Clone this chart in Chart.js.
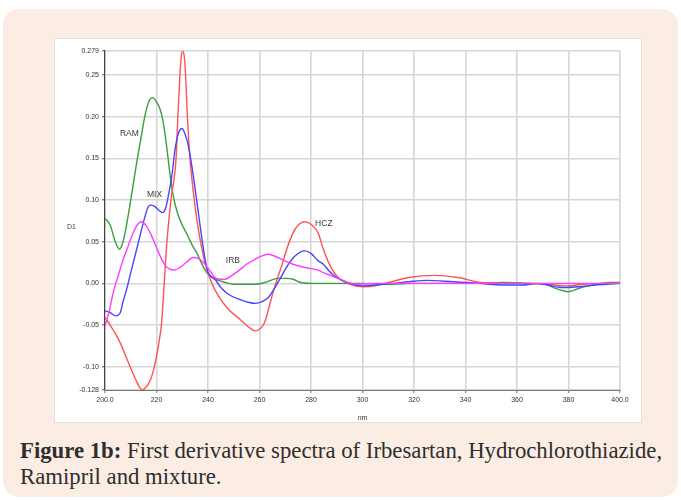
<!DOCTYPE html>
<html>
<head>
<meta charset="utf-8">
<script src="https://cdn.jsdelivr.net/npm/chart.js@4.4.1/dist/chart.umd.min.js"></script>
<style>
    html, body { margin: 0; padding: 0; background: #fff; }
    body { width: 681px; height: 500px; position: relative; overflow: hidden; }
    #panel { position: absolute; left: 3px; top: 9px; width: 675px; height: 488px; background: #fbede3; border-radius: 16px; }
    #box { position: absolute; left: 55px; top: 39px; width: 586px; height: 383px; background: #fff; box-shadow: 0 0 0 1px #e6dfd8; }
    #cap { position: absolute; left: 20px; top: 438px; font-family: 'Liberation Serif', serif; font-size: 19px; line-height: 26px; color: #2e2e2e; white-space: nowrap; }
</style>
</head>
<body>
<div id="panel"></div>
<div id="box"><canvas id="specChart" width="586" height="383"></canvas></div>
<div id="cap"><span id="line1"><b>Figure 1b:</b> First derivative spectra of Irbesartan, Hydrochlorothiazide,</span><br>Ramipril and mixture.</div>

<script>
// wavelength (nm) / first derivative values

// HCZ - red
const hczNm = [200, 202, 204, 206, 208, 210, 212, 213.5, 214.5, 215.5, 217, 218.5, 220, 221, 222, 223, 224, 225.6, 227.6, 228.3, 229.1, 229.6, 230.2, 230.8, 231.3, 232, 233, 234.7, 236, 238.8, 241.4, 244, 247.9, 252, 256, 258.3, 260, 262, 264, 266, 268.6, 271, 273.8, 277.5, 280, 282.7, 284.8, 287, 290, 295, 300, 305, 310, 318, 328, 337, 346, 355, 365, 372, 379, 386, 393, 400];
const hczD1 = [-0.041, -0.05, -0.06, -0.072, -0.087, -0.102, -0.116, -0.125, -0.128, -0.126, -0.12, -0.108, -0.088, -0.07, -0.047, 0, 0.048, 0.10, 0.15, 0.20, 0.25, 0.272, 0.279, 0.272, 0.25, 0.20, 0.15, 0.10, 0.07, 0.025, 0.001, -0.015, -0.031, -0.042, -0.053, -0.057, -0.055, -0.047, -0.025, -0.003, 0.021, 0.045, 0.065, 0.074, 0.071, 0.061, 0.041, 0.024, 0.009, -0.001, -0.004, -0.003, 0.001, 0.007, 0.0096, 0.007, 0.001, 0, 0, -0.001, -0.003, -0.001, 0, 0];

// MIX - blue
const mixNm = [200, 202, 204, 205.8, 207, 208.4, 210, 212.3, 214.9, 216.5, 217.5, 219, 220.5, 222.4, 223.5, 224.6, 226, 227.2, 228.5, 229.9, 231, 232.4, 234, 235.6, 236.6, 238.8, 240.1, 242.7, 245, 247.9, 252, 256, 258.3, 261, 263.4, 266, 268.6, 271, 273.8, 277.5, 280, 282.8, 284.8, 287, 290, 295, 300, 305, 312, 318, 325, 335, 345, 355, 362, 368, 372, 378, 384, 390, 395, 400];
const mixD1 = [-0.033, -0.035, -0.039, -0.036, -0.022, -0.007, 0.013, 0.041, 0.073, 0.09, 0.094, 0.093, 0.089, 0.085, 0.09, 0.105, 0.13, 0.161, 0.18, 0.186, 0.18, 0.165, 0.135, 0.10, 0.077, 0.03, 0.013, 0.005, -0.005, -0.013, -0.019, -0.023, -0.024, -0.022, -0.017, -0.005, 0.009, 0.022, 0.033, 0.039, 0.036, 0.027, 0.023, 0.015, 0.007, 0, -0.003, -0.002, 0, 0.002, 0.0036, 0.002, 0, -0.002, -0.002, 0, -0.002, -0.005, -0.004, -0.002, -0.001, 0];

// RAM - green
const ramNm = [200, 202, 204, 205.6, 207, 208.4, 210, 212.3, 214, 215.5, 217, 218.4, 220, 221.4, 222.5, 223.5, 224.5, 225.5, 226.5, 228, 230, 232, 234, 235.6, 237.5, 239.5, 242, 244.7, 247.9, 250, 258, 262, 267.3, 270.6, 273, 276, 280, 290, 300, 310, 320, 340, 355, 365, 370, 372, 375, 379.9, 385, 390, 395.5, 400];
const ramD1 = [0.078, 0.07, 0.05, 0.041, 0.05, 0.071, 0.10, 0.145, 0.175, 0.201, 0.218, 0.223, 0.218, 0.209, 0.195, 0.175, 0.15, 0.125, 0.105, 0.086, 0.07, 0.058, 0.045, 0.037, 0.024, 0.013, 0.006, 0.003, 0, -0.001, -0.001, 0.001, 0.006, 0.006, 0.005, 0.001, 0, 0, 0, -0.001, 0, 0, 0.001, 0, -0.001, -0.002, -0.006, -0.010, -0.005, -0.002, 0.001, 0.001];

// IRB - magenta
const irbNm = [200, 201.5, 203.2, 205, 207.1, 209, 211, 212.7, 214.2, 215.8, 217.5, 219.5, 221.4, 223.3, 225.2, 227, 229.1, 231.5, 234.3, 236.2, 238.2, 240.8, 242.7, 244.5, 246.6, 249, 251.8, 255, 258.3, 261, 263.4, 266.5, 269.9, 273, 276.4, 279.5, 282.8, 284.8, 288, 291.3, 294.5, 297.7, 305, 320, 340, 360, 380, 400];
const irbD1 = [-0.051, -0.035, -0.011, 0.008, 0.029, 0.045, 0.061, 0.071, 0.074, 0.07, 0.061, 0.047, 0.033, 0.022, 0.017, 0.016, 0.019, 0.025, 0.031, 0.03, 0.025, 0.015, 0.007, 0.005, 0.005, 0.009, 0.015, 0.023, 0.029, 0.033, 0.035, 0.032, 0.027, 0.023, 0.020, 0.018, 0.016, 0.013, 0.009, 0.005, 0.001, -0.001, 0, 0, 0, 0, 0, 0];

// axis ticks
const xTickValues = [200, 220, 240, 260, 280, 300, 320, 340, 360, 380, 400];
const xTickLabels = ['200.0', '220', '240', '260', '280', '300', '320', '340', '360', '380', '400.0'];
const yTickValues = [-0.128, -0.10, -0.05, 0.00, 0.05, 0.10, 0.15, 0.20, 0.25, 0.279];
const yTickLabels = ['-0.128', '-0.10', '-0.05', '0.00', '0.05', '0.10', '0.15', '0.20', '0.25', '0.279'];

// curve labels (text, nm, D1)
const curveLabels = [
    ['RAM', 205.8, 0.18],
    ['MIX', 216.3, 0.106],
    ['IRB', 246.9, 0.027],
    ['HCZ', 281.6, 0.072]
];

const tickFont = { family: "'Liberation Sans Narrow', 'Liberation Sans', Arial, sans-serif", size: 7 };

function toPoints(xs, ys) {
    return xs.map((x, i) => ({ x: x, y: ys[i] }));
}

function makeSet(label, xs, ys, color, order) {
    return {
        label: label,
        data: toPoints(xs, ys),
        borderColor: color,
        borderWidth: 1.4,
        pointRadius: 0,
        fill: false,
        cubicInterpolationMode: 'monotone',
        order: order
    };
}

// text on the plot: curve names and the "D1" axis name
const textPlugin = {
    id: 'specText',
    afterDatasetsDraw(chart) {
        const ctx = chart.ctx;
        const xs = chart.scales.x, ys = chart.scales.y;
        ctx.save();
        ctx.fillStyle = '#3a3a3a';
        ctx.font = "8.5px 'Liberation Sans Narrow', 'Liberation Sans', Arial, sans-serif";
        ctx.textBaseline = 'middle';
        ctx.textAlign = 'left';
        curveLabels.forEach(l => {
            ctx.fillText(l[0], xs.getPixelForValue(l[1]), ys.getPixelForValue(l[2]));
        });
        ctx.font = "7px 'Liberation Sans Narrow', 'Liberation Sans', Arial, sans-serif";
        ctx.fillText('D1', chart.chartArea.left - 38, ys.getPixelForValue(0.068));
        ctx.restore();
    }
};

new Chart(document.getElementById('specChart'), {
    type: 'line',
    data: {
        datasets: [
            makeSet('IRB', irbNm, irbD1, '#ff3cff', 0),
            makeSet('MIX', mixNm, mixD1, '#4646ff', 1),
            makeSet('HCZ', hczNm, hczD1, '#ff5252', 2),
            makeSet('RAM', ramNm, ramD1, '#3f9c3f', 3)
        ]
    },
    options: {
        responsive: false,
        animation: false,
        layout: { padding: { top: 12, right: 21, left: 0, bottom: 0 } },
        plugins: { legend: { display: false }, tooltip: { enabled: false } },
        scales: {
            x: {
                type: 'linear',
                min: 200,
                max: 400,
                afterBuildTicks: s => { s.ticks = xTickValues.map(v => ({ value: v })); },
                afterFit: s => { s.height = 32; },
                ticks: {
                    font: tickFont,
                    color: '#333',
                    maxRotation: 0,
                    autoSkip: false,
                    padding: 3,
                    callback: (v) => xTickLabels[xTickValues.indexOf(v)]
                },
                grid: { color: '#d6d6d6', lineWidth: 1.6, tickColor: '#666', tickLength: 3, tickWidth: 1 },
                border: { color: '#777', width: 1 },
                title: { display: true, text: 'nm', font: tickFont, color: '#333', padding: { top: 0, bottom: 0 } }
            },
            y: {
                min: -0.128,
                max: 0.279,
                afterBuildTicks: s => { s.ticks = yTickValues.map(v => ({ value: v })); },
                afterFit: s => { s.width = 50; },
                ticks: {
                    font: tickFont,
                    color: '#333',
                    autoSkip: false,
                    padding: 3,
                    callback: (v) => yTickLabels[yTickValues.indexOf(v)]
                },
                grid: { color: '#d6d6d6', lineWidth: 1.6, tickColor: '#555', tickLength: 3, tickWidth: 1 },
                border: { color: '#444', width: 1.2 }
            }
        }
    },
    plugins: [textPlugin]
});

// fit the caption's first line to the width it has in the figure
const line1 = document.getElementById('line1');
const cap = document.getElementById('cap');
const w = line1.getBoundingClientRect().width;
cap.style.fontSize = (19 * 642 / w).toFixed(2) + 'px';
</script>
</body>
</html>
